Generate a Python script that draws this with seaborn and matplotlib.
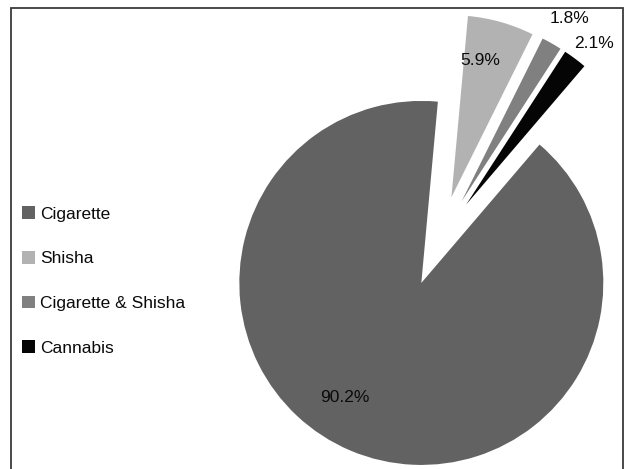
import numpy as np
import matplotlib
matplotlib.use("Agg")
import matplotlib.pyplot as plt
import matplotlib.patches as mpatches
import seaborn as sns

# ---- data ----
categories = ["Cigarette", "Shisha", "Cigarette & Shisha", "Cannabis"]
shares = [90.2, 5.9, 1.8, 2.1]
pct_labels = ["90.2%", "5.9%", "1.8%", "2.1%"]

# ---- style ----
colors = ["#626262", "#b2b2b2", "#808080", "#050505"]
explode = [0.25, 0.25, 0.25, 0.25]
label_radius = [0.76, 0.77, 1.165, 1.13]
label_angle_offset = [-10.9, 3.8, -0.8, -1.6]  # degrees, relative to wedge middle

sns.set_theme(style="white")
plt.rcParams["font.family"] = ["Liberation Sans", "DejaVu Sans"]

W, H, DPI = 627, 469, 100
fig = plt.figure(figsize=(W / DPI, H / DPI), dpi=DPI)
ax = fig.add_axes([0, 0, 1, 1])

R = 182.0  # px per data unit
cx, cy = 439.0, 241.0  # pie centre in px (from top-left)

wedges, _ = ax.pie(
    shares,
    colors=colors,
    explode=explode,
    startangle=49.5,
    counterclock=False,
    radius=1.0,
    wedgeprops=dict(linewidth=0),
)

for w, lab, r, off in zip(wedges, pct_labels, label_radius, label_angle_offset):
    mid = np.deg2rad((w.theta1 + w.theta2) / 2 + off)
    x0, y0 = w.center
    ax.text(x0 + r * np.cos(mid), y0 + r * np.sin(mid), lab,
            ha="center", va="center", fontsize=12.5, color="#0a0a0a")

ax.set_xlim(-cx / R, (W - cx) / R)
ax.set_ylim(-(H - cy) / R, cy / R)
ax.set_aspect("auto")
ax.axis("off")

# outer frame
frame = mpatches.Rectangle((11 / W, -0.1), (623 - 11) / W, 1.1 - 8 / H,
                           transform=fig.transFigure, fill=False,
                           edgecolor="#3a3a3a", linewidth=1.3, clip_on=False)
fig.patches.append(frame)

leg = ax.legend(wedges, categories, loc="center left",
                bbox_to_anchor=(22 / W, 1 - 281 / H),
                bbox_transform=fig.transFigure,
                frameon=False, fontsize=12.5, labelspacing=1.68,
                handlelength=0.75, handleheight=0.75, handletextpad=0.3,
                borderpad=0, borderaxespad=0)
for t in leg.get_texts():
    t.set_color("#0a0a0a")

fig.savefig("out.png", dpi=DPI)
